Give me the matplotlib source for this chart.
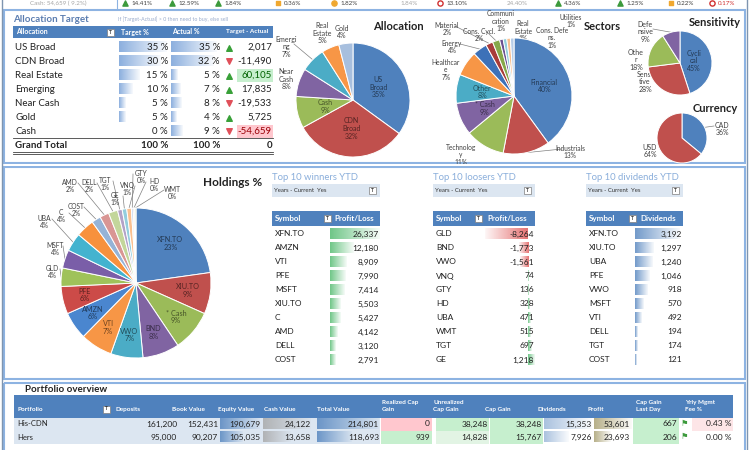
import numpy as np
import matplotlib
matplotlib.use("Agg")
import matplotlib.pyplot as plt
from matplotlib.patches import Rectangle
from matplotlib.colors import to_rgb

plt.rcParams['font.family'] = ['Lato', 'DejaVu Sans']

# ---- data ----
strip_cash = "Cash: 54,659 ( 9.2%)"
strip_vals = ["14.41%", "12.59%", "1.84%", "0.36%", "1.82%", "1.84%",
              "13.10%", "24.40%", "4.36%", "1.25%", "0.22%", "0.17%"]
strip_icon = ["up", "up", "up", "flag", "oc", "none", "rc", "none", "up", "up", "flag", "rc"]

alloc_names = ["US Broad", "CDN Broad", "Real Estate", "Emerging", "Near Cash", "Gold", "Cash"]
alloc_target = [35, 30, 15, 10, 5, 5, 0]
alloc_actual = [35, 32, 5, 7, 8, 4, 9]
alloc_diff = [2017, -11490, 60105, 17835, -19533, 5725, -54659]

sect_names = ["Financial", "Industrials", "Technolog\ny", "* Cash", "Other", "Healthcar\ne", "Energy",
              "Material", "Cons. Cycl.", "Communi\ncation", "Real\nEstate", "Cons. Defe\nns.", "Utilities"]
sect_pct = [40, 13, 11, 9, 8, 7, 4, 2, 2, 1, 1, 1, 1]

sens_names = ["Cycli\ncal", "Sensi\ntive", "Othe\nr", "Defe\nnsive"]
sens_pct = [45, 28, 18, 9]

curr_names = ["CAD", "USD"]
curr_pct = [36, 64]

hold_names = ["XFN.TO", "XIU.TO", "* Cash", "BND", "VWO", "VTI", "AMZN", "PFE", "GLD", "MSFT", "UBA",
              "C", "COST", "AMD", "DELL", "TGT", "GE", "VNQ", "GTY", "HD", "WMT"]
hold_pct = [23, 9, 9, 8, 7, 7, 6, 6, 4, 4, 4, 4, 2, 2, 2, 1, 1, 1, 0.4, 0.3, 0.3]

win_sym = ["XFN.TO", "AMZN", "VTI", "PFE", "MSFT", "XIU.TO", "C", "AMD", "DELL", "COST"]
win_val = [26337, 12180, 8909, 7990, 7414, 5503, 5427, 4142, 3120, 2791]
lose_sym = ["GLD", "BND", "VWO", "VNQ", "GTY", "HD", "UBA", "WMT", "TGT", "GE"]
lose_val = [-8264, -1773, -1561, 74, 136, 328, 471, 515, 697, 1218]
div_sym = ["XFN.TO", "XIU.TO", "UBA", "PFE", "VWO", "MSFT", "VTI", "DELL", "TGT", "COST"]
div_val = [3192, 1297, 1240, 1046, 918, 570, 492, 194, 174, 121]

port_names = ["His-CDN", "Hers"]
deposits = [161200, 95000]
book_value = [152431, 90207]
equity_value = [190679, 105035]
cash_value = [24122, 13658]
total_value = [214801, 118693]
realized = [0, 939]
unrealized = [38248, 14828]
cap_gain = [38248, 15767]
dividends = [15353, 7926]
profit = [53601, 23693]
gain_last_day = [667, 206]
mgmt_fee = [0.43, 0.00]

# ---- style ----
W, H = 750, 450
BLUE_HDR = '#4f81bd'
C6 = ['#4f81bd', '#c0504d', '#9bbb59', '#8064a2', '#4bacc6', '#f79646']
alloc_cols = C6 + ['#a7bfde']
sect_cols = C6 + ['#3d71b8', '#a83c3a', '#86a84a', '#6b5090', '#92cddc', '#fac08f', '#b7cde8']
hold_cols = C6 + ['#4a86cf', '#cc4b48', '#9fc25a', '#7a5ea8', '#43b3cf', '#f7913d',
                  '#95b3d7', '#d99694', '#c3d69b', '#b3a2c7', '#93cddd', '#fac090',
                  '#c5d5ea', '#e6b9b8', '#d7e4bd']

fig = plt.figure(figsize=(7.5, 4.5), dpi=100)
bg = fig.add_axes([0, 0, 1, 1])
bg.set_xlim(0, W)
bg.set_ylim(H, 0)
bg.axis('off')


def txt(x, y, s, fs=6, ha='left', color='#222222', weight='normal', va='center', **kw):
    bg.text(x, y, s, fontsize=fs, ha=ha, va=va, color=color, fontweight=weight, **kw)


def box(x, y, w, h, fc='none', ec='none', lw=0.8, z=0.5):
    bg.add_patch(Rectangle((x, y), w, h, facecolor=fc, edgecolor=ec, linewidth=lw, zorder=z))


def dbar(x0, yc, w, h, color):
    # excel style gradient data bar, solid at the axis and fading out
    if w == 0:
        return
    n = 64
    img = np.zeros((1, n, 4))
    img[..., :3] = to_rgb(color)
    a = np.linspace(0.8, 0.05, n)
    img[..., 3] = a if w > 0 else a[::-1]
    bg.imshow(img, extent=(min(x0, x0 + w), max(x0, x0 + w), yc + h / 2, yc - h / 2),
              aspect='auto', interpolation='bilinear', zorder=1)


def dark(c, f=0.45):
    return tuple(np.array(to_rgb(c)) * f)


def filter_icon(x, y):
    box(x - 3.5, y - 3.5, 7, 7, fc='white', ec='#7f7f7f', lw=0.5, z=3)
    txt(x, y, "T", fs=3.5, ha='center', color='#333333', weight='bold', zorder=4)


def pie(cx, cy, r, vals, cols):
    ax = fig.add_axes([(cx - r) / W, 1 - (cy + r) / H, 2 * r / W, 2 * r / H])
    wedges, _ = ax.pie(vals, colors=cols, startangle=90, counterclock=False,
                       wedgeprops=dict(edgecolor='white', linewidth=0.7))
    for w in wedges:
        w.set_clip_on(False)
    ax.set_xlim(-1, 1)
    ax.set_ylim(-1, 1)
    ax.axis('off')
    return ax, wedges


def mid_angle(w):
    return np.deg2rad((w.theta1 + w.theta2) / 2)


def inside(ax, w, s, col, rr=0.55, fs=5):
    a = mid_angle(w)
    ax.text(rr * np.cos(a), rr * np.sin(a), s, ha='center', va='center', fontsize=fs,
            color=dark(col), linespacing=1.1)


def outside(cx, cy, r, w, s, x, y, leader=False, fs=5):
    txt(x, y, s, fs=fs, ha='center', color='#404040', linespacing=1.1)
    if leader:
        a = mid_angle(w)
        ex, ey = cx + r * np.cos(a), cy - r * np.sin(a)
        lx = x + (8 if ex > x else -8)
        bg.plot([lx, ex], [y - 3, ey], color='#808080', lw=0.5, zorder=2)


# ---- frames ----
box(4, 10, 741, 153, ec='#8db3e2', lw=1.5, z=0.2)
box(4, 167, 741, 212, ec='#8db3e2', lw=1.5, z=0.2)
box(4, 383, 741, 80, ec='#8db3e2', lw=1.5, z=0.2)
bg.plot([2, 2], [0, H], color='#7f95b0', lw=1)
bg.plot([747, 747], [0, H], color='#7f95b0', lw=1)

# ---- top strip ----
txt(30, 3.5, strip_cash, fs=4.5, color='#a6a6a6')
bg.plot([117, 117], [0, 9], color='#8db3e2', lw=0.8)
strip_x = [125, 172, 218, 278, 334, 400, 440, 507, 558, 620, 671, 712]
for x, s, ic in zip(strip_x, strip_vals, strip_icon):
    col = '#404040'
    if ic == 'up':
        bg.scatter([x], [3], marker='^', s=14, color='#3c9a3c', zorder=3)
    elif ic == 'flag':
        bg.scatter([x], [3], marker='s', s=8, color='#f0a830', zorder=3)
    elif ic == 'oc':
        bg.scatter([x], [3], marker='o', s=14, color='#f0a830', zorder=3)
    elif ic == 'rc':
        bg.scatter([x], [3], marker='o', s=14, facecolor='white', edgecolor='#d03030', lw=1, zorder=3)
    if ic == 'none':
        col = '#a6a6a6'
        txt(x, 3.5, s, fs=4.5, color=col)
    else:
        if s == "0.17%":
            col = '#d03030'
        txt(x + 6, 3.5, s, fs=4.5, color=col)

# ---- allocation target table ----
txt(13, 19, "Allocation Target", fs=7, color='#5b7db0', weight='bold')
txt(118, 19, "If [Target-Actual] > 0 then need to buy, else sell", fs=3.8, color='#9aaccc')
box(13, 26, 260, 12, fc=BLUE_HDR, z=0.6)
txt(16, 32, "Allocation", fs=5, color='white', weight='bold')
filter_icon(110, 32)
txt(121, 32, "Target %", fs=5, color='white', weight='bold')
txt(172, 32, "Actual %", fs=5, color='white', weight='bold')
txt(226, 32, "Target - Actual", fs=4.6, color='white', weight='bold')

row_y0, row_h = 47, 14
for i, name in enumerate(alloc_names):
    y = row_y0 + i * row_h
    tval, aval, dval = alloc_target[i], alloc_actual[i], alloc_diff[i]
    dbar(119, y, tval / max(alloc_target) * 48, 11, '#6f9bd6')
    dbar(171, y, aval / max(alloc_actual) * 46, 11, '#6f9bd6')
    if dval == max(alloc_diff):
        box(237, y - 6.5, 36, 13, fc='#c6efce', z=0.6)
    if dval == min(alloc_diff):
        box(237, y - 6.5, 36, 13, fc='#ffc7ce', z=0.6)
    txt(15, y, name, fs=7)
    txt(168, y, f"{tval} %", fs=7, ha='right')
    txt(220, y, f"{aval} %", fs=7, ha='right')
    if dval >= 0:
        bg.scatter([229], [y + 0.5], marker='^', s=16, color='#38a038', zorder=3)
    else:
        bg.scatter([229], [y - 0.5], marker='v', s=16, color='#e0505a', zorder=3)
    dcol = '#9c0006' if dval == min(alloc_diff) else ('#006100' if dval == max(alloc_diff) else '#222222')
    txt(272, y, f"{dval:,}", fs=7, ha='right', color=dcol)

gy = row_y0 + len(alloc_names) * row_h
bg.plot([13, 273], [gy - 7, gy - 7], color='#404040', lw=0.6)
bg.plot([13, 273], [gy + 7, gy + 7], color='#404040', lw=0.6)
bg.plot([13, 273], [gy + 8.5, gy + 8.5], color='#404040', lw=0.6)
txt(15, gy, "Grand Total", fs=7, weight='bold')
txt(168, gy, f"{sum(alloc_target)} %", fs=7, ha='right', weight='bold')
txt(220, gy, f"{sum(alloc_actual)} %", fs=7, ha='right', weight='bold')
txt(272, gy, f"{sum(alloc_diff):,}", fs=7, ha='right', weight='bold')

# ---- allocation pie ----
order = np.argsort(alloc_actual)[::-1]
pie_names = [alloc_names[k] for k in order]
pie_vals = [alloc_actual[k] for k in order]
cx, cy, r = 353, 100, 57
txt(373, 26, "Allocation", fs=8, weight='bold')
ax, ws = pie(cx, cy, r, pie_vals, alloc_cols)
out_pos = {"Emerging": (286, 47, True), "Near Cash": (286, 79, False),
           "Real Estate": (322, 33, False), "Gold": (342, 32, False)}
wrap = {"Emerging": "Emergi\nng"}
for w, n, v, c in zip(ws, pie_names, pie_vals, alloc_cols):
    label = wrap.get(n, n.replace(" ", "\n")) + f"\n{v}%"
    if n in out_pos:
        x, y, ld = out_pos[n]
        outside(cx, cy, r, w, label, x, y, ld)
    else:
        inside(ax, w, label, c, rr=0.5)

# ---- sectors pie ----
cx, cy, r = 514, 96, 58
txt(584, 26, "Sectors", fs=8, weight='bold')
ax, ws = pie(cx, cy, r, sect_pct, sect_cols)
sect_out = {"Industrials": (570, 152, True), "Technolog\ny": (461, 155, False),
            "Healthcar\ne": (446, 70, False), "Energy": (452, 47, True),
            "Material": (447, 29, True), "Cons. Cycl.": (479, 35, True),
            "Communi\ncation": (501, 21, False), "Real\nEstate": (523, 31, False),
            "Cons. Defe\nns.": (552, 38, False), "Utilities": (571, 21, False)}
for w, n, v, c in zip(ws, sect_names, sect_pct, sect_cols):
    label = f"{n}\n{v}%"
    if n in sect_out:
        x, y, ld = sect_out[n]
        outside(cx, cy, r, w, label, x, y, ld, fs=4.8)
    else:
        inside(ax, w, label, c, rr=0.55)

# ---- sensitivity pie ----
cx, cy, r = 680, 63, 32
txt(689, 23, "Sensitivity", fs=8, weight='bold')
ax, ws = pie(cx, cy, r, sens_pct, C6[:4])
sens_out = {"Sensi\ntive": (645, 82, False), "Othe\nr": (636, 60, False), "Defe\nnsive": (645, 32, True)}
for w, n, v, c in zip(ws, sens_names, sens_pct, C6):
    label = f"{n}\n{v}%"
    if n in sens_out:
        x, y, ld = sens_out[n]
        outside(cx, cy, r, w, label, x, y, ld)
    else:
        inside(ax, w, label, c, rr=0.45)

# ---- currency pie ----
cx, cy, r = 682, 138, 25
txt(693, 109, "Currency", fs=8, weight='bold')
ax, ws = pie(cx, cy, r, curr_pct, C6[:2])
curr_out = {"CAD": (722, 129, True), "USD": (650, 151, False)}
for w, n, v in zip(ws, curr_names, curr_pct):
    x, y, ld = curr_out[n]
    outside(cx, cy, r, w, f"{n}\n{v}%", x, y, ld)

# white gap between top and middle panels (clips the lowest labels)
box(5, 163.8, 739, 2.4, fc='white', z=5)

# ---- holdings pie ----
cx, cy, r = 136, 283, 75
txt(203, 182, "Holdings %", fs=8.5, weight='bold')
ax, ws = pie(cx, cy, r, hold_pct, hold_cols)
hold_out = {"GLD": (52, 272), "MSFT": (55, 249), "UBA": (44, 222), "C": (61, 216), "COST": (76, 210),
            "AMD": (70, 186), "DELL": (89, 186), "TGT": (105, 184), "GE": (115, 199),
            "VNQ": (127, 189), "GTY": (141, 177), "HD": (154, 185), "WMT": (172, 193)}
for w, n, v, c in zip(ws, hold_names, hold_pct, hold_cols):
    label = f"{n}\n{round(v)}%"
    if n in hold_out:
        x, y = hold_out[n]
        outside(cx, cy, r, w, label, x, y, True, fs=4.8)
    else:
        inside(ax, w, label, c, rr=0.7, fs=5.2)


# ---- top 10 tables ----
def top_table(x0, x1, title, col_name, syms, vals, bar_x, bar_w, color, icon_x, col_x):
    txt(x0, 178, title, fs=6.8, color='#8aaedb')
    box(x0, 184, x1 - x0, 13, fc='#dce6f1', z=0.6)
    txt(x0 + 2, 191, "Years - Current  Yes", fs=4.3, color='#333333')
    filter_icon(x1 - 8, 190.5)
    box(x0, 211, x1 - x0, 15, fc=BLUE_HDR, z=0.6)
    txt(x0 + 3, 218.5, "Symbol", fs=5.8, color='white', weight='bold')
    filter_icon(icon_x, 218.5)
    txt(col_x, 218.5, col_name, fs=5.8, color='white', weight='bold')
    vmax = max(abs(v) for v in vals)
    for i, (s, v) in enumerate(zip(syms, vals)):
        y = 234 + i * 14
        dbar(bar_x, y, v / vmax * bar_w, 11, '#e05050' if v < 0 else color)
        txt(x0 + 3, y, s, fs=6)
        txt(x1 - 1, y, f"{v:,}", fs=6, ha='right')


top_table(272, 380, "Top 10 winners YTD", "Profit/Loss", win_sym, win_val, 330, 50, '#4cb86a', 327, 334)
top_table(433, 535, "Top 10 loosers YTD", "Profit/Loss", lose_sym, lose_val, 528, 43, '#4cb86a', 478, 487)
top_table(586, 683, "Top 10 dividends YTD", "Dividends", div_sym, div_val, 635, 45, '#4f81bd', 632, 640)

# ---- portfolio overview ----
txt(25, 390, "Portfolio overview", fs=7, weight='bold')
box(14, 395, 719, 23, fc=BLUE_HDR, z=0.6)
hdr = [("Portfolio", 17), ("Deposits", 116), ("Book Value", 172), ("Equity Value", 218),
       ("Cash Value", 264), ("Total Value", 317), ("Realized Cap\nGain", 382),
       ("Unrealized\nCap Gain", 433), ("Cap Gain", 485), ("Dividends", 537), ("Profit", 587),
       ("Cap Gain\nLast Day", 636), ("Yrly Mgmt\nFee %", 685)]
for s, x in hdr:
    txt(x, 412, s, fs=4.6, color='white', weight='bold', va='bottom', linespacing=1.5)
filter_icon(106, 409)

for i, name in enumerate(port_names):
    y = 424 + i * 13
    box(14, y - 6.5, 366, 13, fc='#dce6f1', z=0.4)
    dbar(220, y, equity_value[i] / max(equity_value) * 40, 11, '#4f81bd')
    dbar(263, y, cash_value[i] / max(cash_value) * 48, 11, '#a6a6a6')
    dbar(317, y, total_value[i] / max(total_value) * 62, 11, '#4f81bd')
    box(381, y - 6.5, 51, 13, fc='#ffc7ce' if realized[i] == 0 else '#c6efce', z=0.6)
    box(436, y - 6.5, 53, 13, fc='#c6efce' if i == 0 else '#e2f4e4', z=0.6)
    box(490, y - 6.5, 53, 13, fc='#c6efce', z=0.6)
    dbar(544, y, dividends[i] / max(dividends) * 48, 11, '#95b3d7')
    dbar(594, y, profit[i] / max(profit) * 38, 11, '#a59c6c')
    box(633, y - 6.5, 46, 13, fc='#c6efce', z=0.6)
    if mgmt_fee[i] > 0:
        box(692, y - 6.5, 41, 13, fc='#fde5e7', z=0.6)
    txt(17, y, name, fs=5.5)
    txt(177, y, f"{deposits[i]:,}", fs=6, ha='right')
    txt(218, y, f"{book_value[i]:,}", fs=6, ha='right')
    txt(260, y, f"{equity_value[i]:,}", fs=6, ha='right')
    txt(311, y, f"{cash_value[i]:,}", fs=6, ha='right')
    txt(379, y, f"{total_value[i]:,}", fs=6, ha='right')
    txt(430, y, f"{realized[i]:,}", fs=6, ha='right')
    txt(488, y, f"{unrealized[i]:,}", fs=6, ha='right')
    txt(542, y, f"{cap_gain[i]:,}", fs=6, ha='right')
    txt(592, y, f"{dividends[i]:,}", fs=6, ha='right')
    txt(630, y, f"{profit[i]:,}", fs=6, ha='right')
    txt(677, y, f"{gain_last_day[i]:,}", fs=6, ha='right')
    bg.text(684, y, "\u2691", fontsize=6, ha='center', va='center', color='#3c9a3c', family='DejaVu Sans')
    txt(732, y, f"{mgmt_fee[i]:.2f} %", fs=6, ha='right')

bg.set_xlim(0, W)
bg.set_ylim(H, 0)
fig.savefig("out.png", dpi=100)
